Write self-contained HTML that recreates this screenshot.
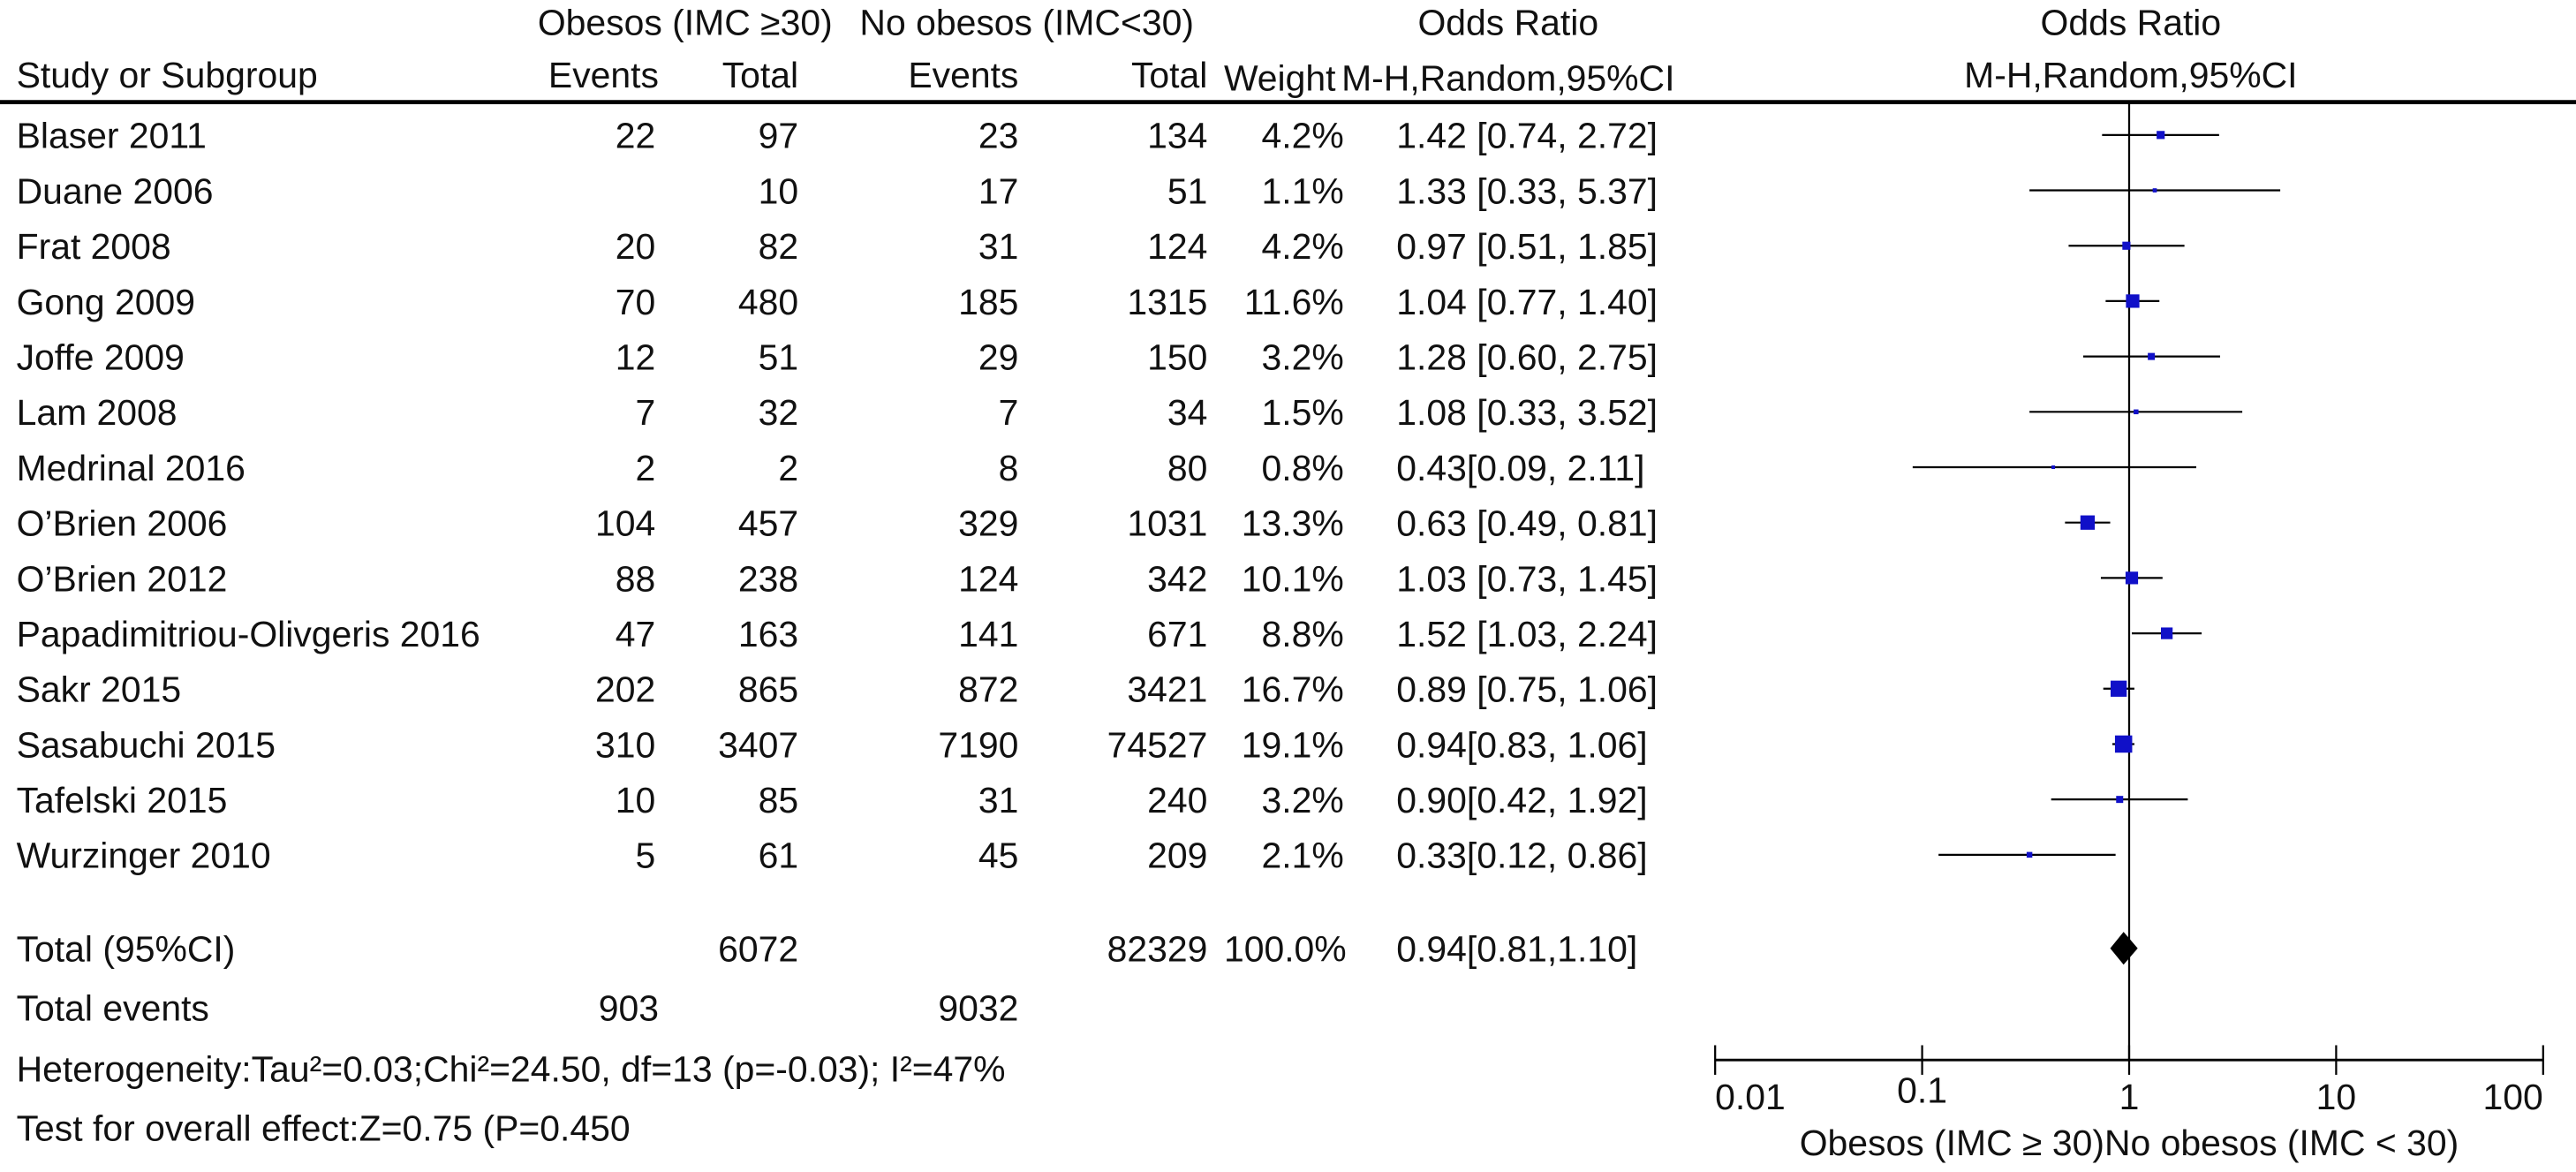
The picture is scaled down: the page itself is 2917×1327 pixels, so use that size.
<!DOCTYPE html>
<html><head><meta charset="utf-8"><style>
html,body{margin:0;padding:0;background:#fff;}
svg{display:block;font-family:"Liberation Sans",Arial,sans-serif;}
text{font-size:22px;fill:#111;}
</style></head><body>
<svg id="c" width="2917" height="1327" viewBox="0 0 1568 713"></svg>
<script>
const studies=["Blaser 2011","Duane 2006","Frat 2008","Gong 2009","Joffe 2009","Lam 2008","Medrinal 2016","O’Brien 2006","O’Brien 2012","Papadimitriou-Olivgeris 2016","Sakr 2015","Sasabuchi 2015","Tafelski 2015","Wurzinger 2010"];
const events1=["22","","20","70","12","7","2","104","88","47","202","310","10","5"];
const total1=["97","10","82","480","51","32","2","457","238","163","865","3407","85","61"];
const events2=["23","17","31","185","29","7","8","329","124","141","872","7190","31","45"];
const total2=["134","51","124","1315","150","34","80","1031","342","671","3421","74527","240","209"];
const weights=[4.2,1.1,4.2,11.6,3.2,1.5,0.8,13.3,10.1,8.8,16.7,19.1,3.2,2.1];
const orVal=[1.42,1.33,0.97,1.04,1.28,1.08,0.43,0.63,1.03,1.52,0.89,0.94,0.90,0.33];
const ciLow=[0.74,0.33,0.51,0.77,0.60,0.33,0.09,0.49,0.73,1.03,0.75,0.83,0.42,0.12];
const ciHigh=[2.72,5.37,1.85,1.40,2.75,3.52,2.11,0.81,1.45,2.24,1.06,1.06,1.92,0.86];
const orText=["1.42 [0.74, 2.72]","1.33 [0.33, 5.37]","0.97 [0.51, 1.85]","1.04 [0.77, 1.40]","1.28 [0.60, 2.75]","1.08 [0.33, 3.52]","0.43[0.09, 2.11]","0.63 [0.49, 0.81]","1.03 [0.73, 1.45]","1.52 [1.03, 2.24]","0.89 [0.75, 1.06]","0.94[0.83, 1.06]","0.90[0.42, 1.92]","0.33[0.12, 0.86]"];
const pooled=[0.94,0.81,1.10];
const ticks=[0.01,0.1,1,10,100];
const tickLabels=["0.01","0.1","1","10","100"];

const svg=document.getElementById('c');
const NS='http://www.w3.org/2000/svg';
function mk(tag,attrs,parent){const e=document.createElementNS(NS,tag);for(const k in attrs)e.setAttribute(k,attrs[k]);(parent||svg).appendChild(e);return e;}
function txt(x,y,s,anchor,name){const t=mk('text',{x:x,y:y,'text-anchor':anchor||'start'});t.textContent=s;


return t;}
const xScale=v=>1296+126*Math.log10(v);
const rowY=i=>82+i*33.7;

txt(417,21,"Obesos (IMC ≥30)","middle","group1-header");
txt(625,21,"No obesos (IMC<30)","middle","group2-header");
txt(918,21,"Odds Ratio","middle","or-header");
txt(1297,21,"Odds Ratio","middle","plot-header");
txt(10,53,"Study or Subgroup","start","study-header");
txt(401,53,"Events","end","events1-header");
txt(486,53,"Total","end","total1-header");
txt(620,53,"Events","end","events2-header");
txt(735,53,"Total","end","total2-header");
txt(745,55,"Weight","start","weight-header");
txt(918,55,"M-H,Random,95%CI","middle","method-header");
txt(1297,53,"M-H,Random,95%CI","middle","plot-method-header");
const hl=mk('line',{x1:0,x2:1568,y1:62,y2:62,stroke:'#000','stroke-width':2.5});



const vl=mk('line',{x1:xScale(1),x2:xScale(1),y1:62,y2:645,stroke:'#000','stroke-width':1.2});



studies.forEach((s,i)=>{
 const y=rowY(i)+8;
 txt(10,y,s,"start","study-name");
 txt(399,y,events1[i],"end","events1");
 txt(486,y,total1[i],"end","total1");
 txt(620,y,events2[i],"end","events2");
 txt(735,y,total2[i],"end","total2");
 txt(818,y,weights[i].toFixed(1)+"%","end","weight");
 txt(850,y,orText[i],"start","or-ci-text");
 const cy=rowY(i);
 const l=mk('line',{x1:xScale(ciLow[i]),x2:xScale(ciHigh[i]),y1:cy,y2:cy,stroke:'#000','stroke-width':1.2});
 
 
 const sz=Math.max(2,Math.sqrt(weights[i])*2.4);
 const r=mk('rect',{x:xScale(orVal[i])-sz/2,y:cy-sz/2,width:sz,height:sz,fill:'#1010c8'});
 
 
});

txt(10,585,"Total (95%CI)","start","total-label");
txt(486,585,"6072","end","total1-sum");
txt(735,585,"82329","end","total2-sum");
txt(745,585,"100.0%","start","weight-sum");
txt(850,585,"0.94[0.81,1.10]","start","pooled-text");
const dy=577;
const d=mk('polygon',{points:`${xScale(pooled[1])},${dy} ${xScale(pooled[0])},${dy-10} ${xScale(pooled[2])},${dy} ${xScale(pooled[0])},${dy+10}`,fill:'#000'});



txt(10,621,"Total events","start","total-events-label");
txt(401,621,"903","end","events1-sum");
txt(620,621,"9032","end","events2-sum");
txt(10,658,"Heterogeneity:Tau²=0.03;Chi²=24.50, df=13 (p=-0.03); I²=47%","start","heterogeneity");
txt(10,694,"Test for overall effect:Z=0.75 (P=0.450","start","overall-effect");

const ax=mk('line',{x1:xScale(ticks[0]),x2:xScale(ticks[ticks.length-1]),y1:645,y2:645,stroke:'#000','stroke-width':1.5});


ticks.forEach((t,i)=>{
 const x=xScale(t);
 const tk=mk('line',{x1:x,x2:x,y1:636,y2:654,stroke:'#000','stroke-width':1.2});
 
 
 const anchor=i===0?'start':(i===ticks.length-1?'end':'middle');
 txt(x,i===1?671:675,tickLabels[i],anchor,"x-tick-label");
});
txt(1296,703,"Obesos (IMC ≥ 30)No obesos (IMC < 30)","middle","x-axis-title");
</script>
</body></html>
